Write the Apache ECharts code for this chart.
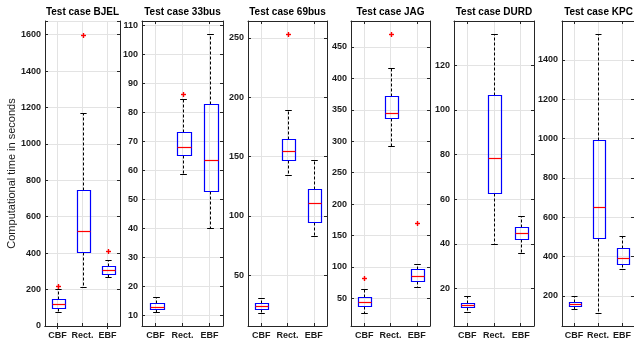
<!DOCTYPE html>
<html><head><meta charset="utf-8">
<script src="https://cdn.jsdelivr.net/npm/echarts@6/dist/echarts.min.js"></script>
<style>html,body{margin:0;padding:0;background:#fff}#c{width:634px;height:346px}</style>
</head><body><div id="c"></div>
<script>
// ---------- data ----------
const categories = ['CBF', 'Rect.', 'EBF'];
const caseTitles = ['Test case BJEL', 'Test case 33bus', 'Test case 69bus', 'Test case JAG', 'Test case DURD', 'Test case KPC'];
// each row: [lower whisker, Q1, median, Q3, upper whisker] for CBF, Rect., EBF
const boxesBJEL = [[78, 97, 122, 146, 204], [215, 405, 522, 746, 1168], [268, 286, 310, 332, 361]];
const boxes33bus = [[11.1, 12.3, 13.1, 14.2, 16.5], [58.7, 65.2, 68.1, 73.4, 84.6], [40.3, 52.8, 63.6, 82.8, 107.0]];
const boxes69bus = [[18.2, 21.6, 23.8, 26.7, 30.9], [134, 147.0, 154.9, 164.5, 189.2], [83, 94.7, 110.5, 122.3, 147.0]];
const boxesJAG = [[27.2, 37.8, 44.7, 51.6, 64.3], [292.4, 337.5, 345, 372.5, 416.6], [68.6, 78.1, 85.5, 96.2, 104.6]];
const boxesDURD = [[9.4, 12.0, 12.8, 13.7, 16.9], [40.1, 62.8, 78.4, 106.7, 133.9], [35.8, 42.2, 44.7, 47.7, 52.6]];
const boxesKPC = [[134, 149, 159, 171, 200], [115, 497, 654, 993, 1532], [336, 363, 392, 442, 507]];
// outliers: [category index, value]
const outliersBJEL = [[0, 222], [1, 1600], [2, 410]];
const outliers33bus = [[1, 86.3]];
const outliers69bus = [[1, 253.4]];
const outliersJAG = [[0, 82.9], [1, 470.7], [2, 170.4]];
const outliersDURD = [];
const outliersKPC = [];
// y axis limits and tick steps
const yMin = [0, 6.4, 7, 5.9, 3.3, 47.5];
const yMax = [1675, 111.5, 264.3, 491.4, 139.7, 1598];
const yStep = [200, 10, 50, 50, 20, 200];
const yLabel = 'Computational time in seconds';

const allBoxes = [boxesBJEL, boxes33bus, boxes69bus, boxesJAG, boxesDURD, boxesKPC];
const allOutliers = [outliersBJEL, outliers33bus, outliers69bus, outliersJAG, outliersDURD, outliersKPC];

// ---------- layout ----------
const gridLeft = [45, 142, 248, 351, 454, 562];
const gridWidth = [75, 81, 79, 79, 80, 73];
const gridTop = 21, gridBottom = 20;
const FONT = 'Liberation Sans, Arial, Helvetica, sans-serif';
const AX = '#262626';

function renderBox(params, api) {
  const x = api.value(0);
  const band = api.size([1, 0])[0];
  const bw = Math.round(band * 0.5), cw = band * 0.25;
  const pLW = api.coord([x, api.value(1)]);
  const pQ1 = api.coord([x, api.value(2)]);
  const pMed = api.coord([x, api.value(3)]);
  const pQ3 = api.coord([x, api.value(4)]);
  const pUW = api.coord([x, api.value(5)]);
  const cx = Math.round(pQ1[0]) + 0.5;
  const r = v => Math.round(v) + 0.5;
  const bx = Math.round(cx - bw / 2) + 0.5;
  const dash = { stroke: '#000', lineWidth: 1, lineDash: [3, 2] };
  const solid = { stroke: '#000', lineWidth: 1 };
  return {
    type: 'group',
    children: [
      { type: 'line', shape: { x1: cx, y1: r(pQ3[1]), x2: cx, y2: r(pUW[1]) }, style: dash },
      { type: 'line', shape: { x1: cx, y1: r(pQ1[1]), x2: cx, y2: r(pLW[1]) }, style: dash },
      { type: 'line', shape: { x1: cx - cw / 2, y1: r(pUW[1]), x2: cx + cw / 2, y2: r(pUW[1]) }, style: solid },
      { type: 'line', shape: { x1: cx - cw / 2, y1: r(pLW[1]), x2: cx + cw / 2, y2: r(pLW[1]) }, style: solid },
      { type: 'rect', shape: { x: bx, y: r(pQ3[1]), width: bw, height: r(pQ1[1]) - r(pQ3[1]) },
        style: { fill: 'none', stroke: '#0000ff', lineWidth: 1.2 } },
      { type: 'line', shape: { x1: bx, y1: r(pMed[1]), x2: bx + bw, y2: r(pMed[1]) },
        style: { stroke: '#ff0000', lineWidth: 1.2 } }
    ]
  };
}

function renderOutlier(params, api) {
  const p = api.coord([api.value(0), api.value(1)]);
  const cx = Math.round(p[0]) + 0.5, cy = Math.round(p[1]) + 0.5, s = 2.5;
  const st = { stroke: '#ff0000', lineWidth: 1.4, fill: 'none' };
  return {
    type: 'group',
    children: [
      { type: 'line', shape: { x1: cx - s, y1: cy, x2: cx + s, y2: cy }, style: st, z2: 10 },
      { type: 'line', shape: { x1: cx, y1: cy - s, x2: cx, y2: cy + s }, style: st, z2: 10 }
    ]
  };
}

const grid = [], xAxis = [], yAxis = [], series = [], title = [];
for (let i = 0; i < 6; i++) {
  grid.push({ left: gridLeft[i], width: gridWidth[i], top: gridTop, bottom: gridBottom, containLabel: false });
  title.push({
    text: caseTitles[i], left: gridLeft[i] + gridWidth[i] / 2, top: 7, textAlign: 'center', padding: 0,
    textStyle: { fontFamily: FONT, fontSize: 10, fontWeight: 'bold', color: '#000' }
  });
  const step = yStep[i];
  const fmt = v => { const q = v / step; return Math.abs(q - Math.round(q)) < 1e-6 ? String(Math.round(v)) : ''; };
  const splitNumber = Math.round((yMax[i] - yMin[i]) / step);
  xAxis.push({
    type: 'category', gridIndex: i, data: categories, position: 'bottom', boundaryGap: true,
    axisLine: { show: true, lineStyle: { color: AX, width: 1 } },
    axisTick: { show: true, inside: true, length: 3, alignWithLabel: true, lineStyle: { color: AX } },
    axisLabel: { show: true, margin: 5, fontFamily: FONT, fontSize: 9, fontWeight: 'bold', color: '#1a1a1a', interval: 0 },
    splitLine: { show: true, alignWithLabel: true, lineStyle: { color: '#e3e3e3', width: 1 } }
  });
  xAxis.push({
    type: 'category', gridIndex: i, data: categories, position: 'top', boundaryGap: true,
    axisLine: { show: true, lineStyle: { color: AX, width: 1 } },
    axisTick: { show: true, inside: true, length: 3, alignWithLabel: true, lineStyle: { color: AX } },
    axisLabel: { show: false }, splitLine: { show: false }
  });
  yAxis.push({
    type: 'value', gridIndex: i, position: 'left', min: yMin[i], max: yMax[i], splitNumber: splitNumber,
    name: i === 0 ? yLabel : '', nameLocation: 'middle', nameGap: 27,
    nameTextStyle: { fontFamily: FONT, fontSize: 11, color: '#1a1a1a' },
    axisLine: { show: true, lineStyle: { color: AX, width: 1 } },
    axisTick: { show: true, inside: true, length: 3, lineStyle: { color: AX } },
    axisLabel: { show: true, margin: 4, fontFamily: FONT, fontSize: 9, fontWeight: 'bold', color: '#1a1a1a', formatter: fmt },
    splitLine: { show: true, lineStyle: { color: '#e3e3e3', width: 1 } }
  });
  yAxis.push({
    type: 'value', gridIndex: i, position: 'right', min: yMin[i], max: yMax[i], splitNumber: splitNumber,
    axisLine: { show: true, lineStyle: { color: AX, width: 1 } },
    axisTick: { show: true, inside: true, length: 3, lineStyle: { color: AX } },
    axisLabel: { show: false }, splitLine: { show: false }
  });
  series.push({
    type: 'custom', xAxisIndex: 2 * i, yAxisIndex: 2 * i,
    data: allBoxes[i].map((b, k) => [k].concat(b)),
    encode: { x: 0, y: [1, 2, 3, 4, 5] },
    renderItem: renderBox, silent: true, z: 5
  });
  series.push({
    type: 'custom', xAxisIndex: 2 * i, yAxisIndex: 2 * i,
    data: allOutliers[i],
    encode: { x: 0, y: 1 },
    renderItem: renderOutlier, silent: true, z: 6
  });
}

const chart = echarts.init(document.getElementById('c'), null, { renderer: 'canvas' });
chart.setOption({
  animation: false,
  backgroundColor: '#fff',
  title: title, grid: grid, xAxis: xAxis, yAxis: yAxis, series: series
});
</script>
</body></html>
